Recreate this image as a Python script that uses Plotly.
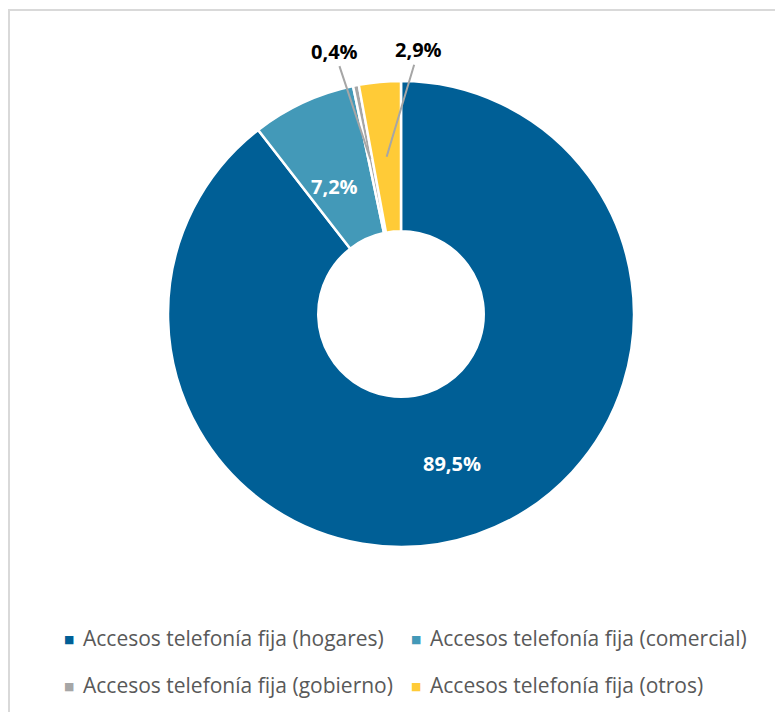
import math
import plotly.graph_objects as go

# ---- data ----
labels = [
    "Accesos telefonía fija (hogares)",
    "Accesos telefonía fija (comercial)",
    "Accesos telefonía fija (gobierno)",
    "Accesos telefonía fija (otros)",
]
values = [89.5, 7.2, 0.4, 2.9]
colors = ["#005F96", "#4399B8", "#A6A6A6", "#FFCB37"]
label_outside = [False, False, True, True]
label_offsets = [None, None, (-36, -108), (32, -107)]  # px offsets text vs leader point

# ---- layout constants (screen px; page body adds an 8px offset) ----
W, H = 783, 712
OFF = 8
CX, CY, R = 401 - OFF, 314 - OFF, 233
HOLE = 0.355
FONT = "Open Sans"

fig = go.Figure(
    go.Pie(
        labels=labels,
        values=values,
        sort=False,
        direction="clockwise",
        rotation=0,
        hole=HOLE,
        marker=dict(colors=colors, line=dict(color="white", width=2.5)),
        textinfo="none",
        hoverinfo="label+percent",
        showlegend=False,
        domain=dict(
            x=[(CX - R) / W, (CX + R) / W],
            y=[1 - (CY + R) / H, 1 - (CY - R) / H],
        ),
    )
)

def fmt(v):
    return f"{v:.1f}".replace(".", ",") + "%"

annotations = []
total = sum(values)
cum = 0.0
rmid = (HOLE + 1) / 2 * R
for v, outside, off in zip(values, label_outside, label_offsets):
    mid = (cum + v / 2) / total
    cum += v
    th = 2 * math.pi * mid
    px = CX + rmid * math.sin(th)
    py = CY - rmid * math.cos(th)
    xp, yp = px / W, 1 - py / H
    if not outside:
        annotations.append(dict(
            x=xp, y=yp, xref="paper", yref="paper", text=f"<b>{fmt(v)}</b>",
            showarrow=False, font=dict(family=FONT, size=20, color="white"),
        ))
    else:
        annotations.append(dict(
            x=xp, y=yp, xref="paper", yref="paper", text=f"<b>{fmt(v)}</b>",
            showarrow=True, arrowhead=0, arrowwidth=2, arrowcolor="#A6A6A6",
            ax=off[0], ay=off[1], standoff=0,
            font=dict(family=FONT, size=20, color="black"),
        ))

# manual legend (two columns, two rows)
leg_cols = [65 - OFF, 412 - OFF]
leg_rows = [639 - OFF, 686 - OFF]
for i, (lab, col) in enumerate(zip(labels, colors)):
    lx = leg_cols[i % 2]
    ly = leg_rows[i // 2]
    annotations.append(dict(
        x=(lx + 4) / W, y=1 - ly / H, xref="paper", yref="paper",
        text="■", showarrow=False, xanchor="center", yanchor="middle",
        font=dict(family="DejaVu Sans", size=11, color=col),
    ))
    annotations.append(dict(
        x=(lx + 16) / W, y=1 - (ly - 1) / H, xref="paper", yref="paper",
        text=lab, showarrow=False, xanchor="left", yanchor="middle",
        font=dict(family=FONT, size=21, color="#595959"),
    ))

fig.update_layout(
    width=W, height=H,
    margin=dict(l=0, r=0, t=0, b=0),
    paper_bgcolor="white",
    annotations=annotations,
    shapes=[dict(
        type="rect", xref="paper", yref="paper",
        x0=1 / W, y0=-0.05, x1=1.05, y1=1 - 2 / H,
        line=dict(color="#D9D9D9", width=2),
    )],
)

fig.write_html("out.html")
